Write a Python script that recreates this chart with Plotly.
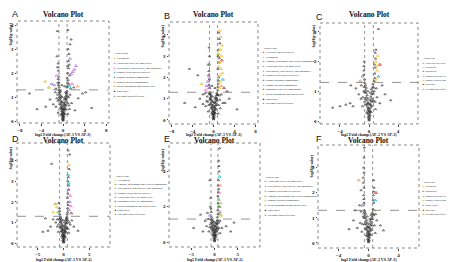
import plotly.graph_objects as go

FONT = "Liberation Serif"
W, H = 454, 262

CLASS_COLORS = {
    "Alkaloids and derivatives": "#e8413c",
    "Benzenoids": "#d62728",
    "Flavonoids": "#f2c12e",
    "Lignans, neolignans and related compounds": "#4daf4a",
    "Lipids and lipid-like molecules": "#a979d6",
    "Nucleosides, nucleotides, and analogues": "#e377c2",
    "Organic acids and derivatives": "#19bfd0",
    "Organic nitrogen compounds": "#2f7fc1",
    "Organic oxygen compounds": "#f39a6b",
    "Organoheterocyclic compounds": "#8c564b",
    "Phenylpropanoids and polyketides": "#b5b82a",
    "Prenol lipids": "#9467bd",
    "Undefined": "#222222",
    "No significant difference": "#8a8a8a",
}

# ---------------- data ----------------
A_classes = ["Flavonoids", "Lipids and lipid-like molecules", "Nucleosides, nucleotides, and analogues",
             "Organic acids and derivatives", "Organic nitrogen compounds", "Organic oxygen compounds",
             "Phenylpropanoids and polyketides", "Undefined", "No significant difference"]
A_ns = [(0.00, 0.02), (0.05, 0.05), (-0.05, 0.07), (0.1, 0.1), (-0.1, 0.12), (0.02, 0.15), (0.15, 0.18),
        (-0.15, 0.2), (0.08, 0.22), (-0.08, 0.25), (0.2, 0.28), (-0.2, 0.3), (0.12, 0.33), (-0.12, 0.36),
        (0.25, 0.4), (-0.25, 0.42), (0.3, 0.48), (-0.3, 0.5), (0.18, 0.5), (-0.18, 0.55), (0.35, 0.58),
        (-0.35, 0.62), (0.4, 0.68), (-0.4, 0.72), (0.28, 0.7), (-0.3, 0.8), (0.45, 0.8), (-0.45, 0.85),
        (0.5, 0.92), (-0.5, 0.95), (0.38, 0.98), (-0.42, 1.05), (0.55, 1.05), (-0.55, 1.1), (0.6, 1.15),
        (-0.6, 1.2), (0.5, 1.2), (-0.48, 1.25), (0.9, 0.3), (-0.9, 0.35), (1.2, 0.5), (-1.3, 0.6),
        (1.6, 0.75), (-1.8, 0.7), (2.2, 0.45), (-2.4, 0.9), (2.8, 0.95), (-3.2, 0.6), (3.6, 1.15),
        (4.2, 1.2), (-4.8, 0.5), (-6.2, 1.15), (5.3, 0.55), (1.0, 1.0), (-1.0, 1.1), (0.7, 1.4),
        (0.8, 1.6), (0.75, 1.8), (0.9, 2.0), (0.85, 2.3), (1.0, 2.5), (1.1, 2.8), (0.95, 3.0), (1.3, 3.2),
        (1.5, 3.4), (0.9, 3.8), (-0.7, 1.4), (-0.75, 1.6), (-0.8, 1.85), (-0.85, 2.1), (-0.9, 2.4),
        (-1.1, 2.7), (-1.05, 3.75), (-0.2, 1.5), (0.3, 1.45), (-1.3, 1.35), (1.4, 1.35), (2.0, 1.4),
        (0.65, 0.85), (-0.65, 0.9), (0.75, 1.25), (-0.7, 1.3), (0.22, 0.9), (-0.15, 1.0), (1.2, 1.9),
        (1.05, 2.2), (-0.95, 1.6), (0.8, 1.05), (0.05, 0.35), (-0.03, 0.45), (0.1, 0.6), (-0.08, 0.65),
        (0.15, 0.75), (-0.12, 0.8), (0.32, 0.3), (-0.35, 0.28), (0.45, 0.5), (-0.45, 0.55), (0.55, 0.65),
        (-0.55, 0.7), (0.62, 0.95), (-0.62, 1.0), (0.7, 1.15), (-0.72, 1.18), (0.9, 0.75), (-0.95, 0.85),
        (1.1, 0.65), (-1.15, 0.95), (1.3, 1.1), (-1.4, 1.2), (0.85, 1.45), (0.95, 1.7), (1.05, 1.55),
        (-0.85, 1.5), (-0.9, 1.75), (1.15, 2.35), (-1.0, 2.25), (0.0, 0.5)]
A_sig = [(1.5, 1.95, "Lipids and lipid-like molecules"), (1.8, 2.05, "Lipids and lipid-like molecules"),
         (2.1, 2.15, "Lipids and lipid-like molecules"), (2.4, 2.3, "Lipids and lipid-like molecules"),
         (1.7, 1.55, "Nucleosides, nucleotides, and analogues"), (-1.6, 1.5, "Lipids and lipid-like molecules"),
         (-2.1, 1.55, "Lipids and lipid-like molecules"), (-3.3, 1.65, "Flavonoids"),
         (1.2, 1.45, "Organic acids and derivatives"), (2.7, 1.45, "Organic oxygen compounds"),
         (-1.2, 1.9, "Nucleosides, nucleotides, and analogues"), (1.3, 2.6, "Lipids and lipid-like molecules"),
         (-2.6, 1.4, "Phenylpropanoids and polyketides")]

B_classes = ["Alkaloids and derivatives", "Flavonoids", "Lignans, neolignans and related compounds",
             "Lipids and lipid-like molecules", "Nucleosides, nucleotides, and analogues",
             "Organic acids and derivatives", "Organic nitrogen compounds", "Organic oxygen compounds",
             "Organoheterocyclic compounds", "Phenylpropanoids and polyketides", "Undefined",
             "No significant difference"]
B_ns = [(0.0, 0.03), (0.06, 0.06), (-0.06, 0.08), (0.12, 0.12), (-0.1, 0.15), (0.03, 0.18), (0.16, 0.22),
        (-0.16, 0.24), (0.08, 0.28), (-0.08, 0.3), (0.22, 0.33), (-0.22, 0.36), (0.12, 0.4), (-0.14, 0.42),
        (0.27, 0.46), (-0.28, 0.5), (0.32, 0.55), (-0.32, 0.58), (0.2, 0.6), (-0.2, 0.64), (0.38, 0.68),
        (-0.38, 0.72), (0.42, 0.78), (-0.44, 0.82), (0.3, 0.84), (-0.3, 0.9), (0.48, 0.92), (-0.5, 0.96),
        (0.55, 1.02), (-0.55, 1.06), (0.4, 1.08), (-0.45, 1.14), (0.6, 1.16), (-0.6, 1.2), (0.62, 1.26),
        (-0.62, 1.28), (0.9, 0.3), (-1.0, 0.4), (1.3, 0.55), (-1.5, 0.65), (1.8, 0.8), (-2.0, 0.75),
        (2.2, 0.8), (-2.6, 1.0), (3.0, 1.0), (-3.5, 0.6), (4.5, 0.5), (-5.5, 0.8), (-2.0, 1.2), (2.6, 1.35),
        (-4.6, 2.4), (-3.0, 2.1), (0.8, 1.4), (0.9, 1.7), (1.0, 2.0), (0.85, 2.4), (1.1, 2.9), (0.95, 3.3),
        (1.2, 3.6), (1.0, 4.1), (-0.7, 1.5), (-0.8, 1.9), (-0.9, 2.3), (-0.75, 3.0), (-0.85, 3.4),
        (-1.2, 1.1), (1.1, 1.15), (0.3, 1.5), (-0.3, 1.6), (0.7, 0.9), (-0.7, 0.95), (-0.9, 0.7),
        (0.25, 1.0), (-0.2, 1.1), (0.8, 1.2), (-0.8, 1.25), (0.04, 0.38), (-0.02, 0.5), (0.09, 0.62),
        (-0.1, 0.7), (0.14, 0.8), (-0.12, 0.86), (0.35, 0.32), (-0.36, 0.3), (0.46, 0.52), (-0.47, 0.58),
        (0.56, 0.7), (-0.56, 0.74), (0.64, 0.98), (-0.64, 1.02), (0.72, 1.18), (-0.74, 1.2), (1.0, 0.7),
        (-1.1, 0.85), (1.2, 0.95), (-1.3, 0.9), (1.5, 1.2), (-1.6, 1.25), (0.85, 1.55), (0.95, 1.85),
        (-0.85, 1.65), (-0.95, 2.1), (1.05, 2.7), (-0.8, 2.6), (0.9, 3.0), (1.1, 3.8)]
B_sig = [(1.1, 1.5, "Flavonoids"), (1.3, 1.8, "Flavonoids"), (1.2, 2.1, "Flavonoids"), (1.4, 2.4, "Flavonoids"),
         (1.2, 2.7, "Flavonoids"), (1.5, 3.0, "Flavonoids"), (1.3, 3.3, "Flavonoids"), (1.6, 3.5, "Flavonoids"),
         (1.4, 3.9, "Flavonoids"), (1.2, 4.2, "Flavonoids"), (1.7, 2.2, "Flavonoids"), (1.0, 2.5, "Flavonoids"),
         (1.5, 1.6, "Organic oxygen compounds"), (-0.9, 1.5, "Lipids and lipid-like molecules"),
         (-1.1, 1.8, "Lipids and lipid-like molecules"), (-1.3, 1.6, "Lipids and lipid-like molecules"),
         (-0.8, 2.0, "Lipids and lipid-like molecules"), (-1.5, 1.4, "Nucleosides, nucleotides, and analogues"),
         (-1.0, 2.6, "Lignans, neolignans and related compounds"), (1.8, 1.9, "Organic acids and derivatives"),
         (2.0, 1.5, "Organoheterocyclic compounds"), (0.9, 3.1, "Phenylpropanoids and polyketides"),
         (-2.3, 1.7, "Flavonoids"), (1.6, 2.8, "Alkaloids and derivatives")]

C_classes = ["Lipids and lipid-like molecules", "Flavonoids", "Benzenoids", "Organic acids and derivatives",
             "Organic oxygen compounds", "Undefined", "No significant difference"]
C_ns = [(0.0, 0.02), (0.05, 0.05), (-0.05, 0.08), (0.1, 0.11), (-0.1, 0.14), (0.02, 0.17), (0.14, 0.2),
        (-0.14, 0.23), (0.07, 0.26), (-0.07, 0.29), (0.18, 0.32), (-0.18, 0.35), (0.1, 0.38), (-0.12, 0.41),
        (0.22, 0.45), (-0.22, 0.48), (0.27, 0.53), (-0.27, 0.56), (0.16, 0.58), (-0.17, 0.62), (0.32, 0.66),
        (-0.32, 0.7), (0.36, 0.75), (-0.37, 0.8), (0.25, 0.82), (-0.26, 0.87), (0.4, 0.9), (-0.42, 0.95),
        (0.45, 1.0), (-0.46, 1.05), (0.34, 1.08), (-0.38, 1.12), (0.5, 1.15), (-0.5, 1.2), (0.55, 1.25),
        (-0.55, 1.27), (0.7, 1.35), (0.8, 1.6), (0.75, 1.9), (0.9, 2.1), (0.85, 2.3), (1.3, 3.1),
        (-0.6, 1.4), (-0.7, 1.7), (-0.65, 2.0), (-0.75, 1.55), (-4.0, 0.5), (-3.2, 0.55), (-2.6, 0.6),
        (-2.2, 0.5), (-5.0, 0.45), (-1.8, 1.1), (-2.5, 1.2), (2.2, 0.9), (3.0, 0.7), (1.8, 1.2), (-1.4, 0.9),
        (1.5, 0.6), (0.9, 0.4), (-0.9, 0.5), (1.1, 0.8), (-1.1, 0.75), (0.7, 1.0), (-0.7, 1.0),
        (0.6, 0.7), (-0.6, 0.65), (0.2, 0.95), (-0.15, 1.0), (0.04, 0.33), (-0.03, 0.44), (0.08, 0.55),
        (-0.09, 0.6), (0.12, 0.7), (-0.13, 0.76), (0.3, 0.3), (-0.32, 0.28), (0.42, 0.5), (-0.42, 0.55),
        (0.5, 0.65), (-0.52, 0.75), (0.58, 0.92), (-0.58, 0.98), (0.65, 1.12), (-0.66, 1.15), (0.85, 0.65),
        (-0.85, 0.8), (1.0, 1.1), (-1.05, 1.2), (0.8, 1.45), (0.85, 1.8), (-0.7, 1.85), (0.95, 2.4)]
C_sig = [(1.0, 1.4, "Flavonoids"), (1.1, 1.7, "Flavonoids"), (0.95, 2.0, "Flavonoids"), (1.2, 2.2, "Flavonoids"),
         (1.05, 1.85, "Flavonoids"), (-0.9, 1.5, "Lipids and lipid-like molecules"),
         (1.3, 1.5, "Organic acids and derivatives"), (-1.2, 1.35, "Organic oxygen compounds"),
         (1.5, 1.9, "Benzenoids")]

D_classes = ["Flavonoids", "Lignans, neolignans and related compounds", "Nucleosides, nucleotides, and analogues",
             "Organic acids and derivatives", "Lipids and lipid-like molecules", "Organoheterocyclic compounds",
             "Phenylpropanoids and polyketides", "Undefined", "No significant difference"]
D_ns = [(0.0, 0.03), (0.06, 0.06), (-0.06, 0.09), (0.12, 0.12), (-0.12, 0.15), (0.03, 0.19), (0.17, 0.22),
        (-0.17, 0.25), (0.09, 0.29), (-0.09, 0.32), (0.22, 0.36), (-0.22, 0.39), (0.13, 0.42), (-0.13, 0.45),
        (0.27, 0.5), (-0.27, 0.53), (0.32, 0.58), (-0.32, 0.61), (0.2, 0.64), (-0.2, 0.68), (0.37, 0.72),
        (-0.37, 0.76), (0.42, 0.8), (-0.42, 0.84), (0.3, 0.88), (-0.3, 0.92), (0.47, 0.96), (-0.47, 1.0),
        (0.52, 1.05), (-0.52, 1.08), (0.4, 1.12), (-0.4, 1.16), (0.57, 1.2), (-0.57, 1.24), (0.62, 1.27),
        (0.7, 1.4), (0.8, 1.7), (0.9, 2.0), (0.85, 2.4), (1.0, 2.8), (0.95, 3.2), (1.1, 3.6), (1.2, 4.3),
        (0.9, 4.5), (-0.7, 1.4), (-0.8, 1.7), (-0.9, 1.95), (-2.3, 3.85), (-3.0, 0.6), (-2.5, 0.8),
        (-2.0, 1.15), (-4.0, 0.55), (2.0, 0.8), (2.8, 0.6), (-1.5, 1.0), (1.6, 1.1), (-3.5, 1.2), (1.0, 0.5),
        (-1.0, 0.55), (1.3, 0.9), (-1.2, 0.8), (0.8, 1.1), (-0.8, 1.15), (0.65, 0.75), (-0.65, 0.8),
        (0.2, 1.0), (-0.1, 1.1), (0.75, 2.2), (0.85, 3.0), (0.04, 0.36), (-0.03, 0.48), (0.09, 0.58),
        (-0.08, 0.66), (0.14, 0.78), (-0.14, 0.84), (0.34, 0.3), (-0.35, 0.33), (0.45, 0.54), (-0.46, 0.58),
        (0.55, 0.68), (-0.55, 0.72), (0.62, 0.96), (-0.63, 1.0), (0.7, 1.18), (-0.7, 1.2), (0.9, 0.7),
        (-0.95, 0.9), (1.1, 1.0), (-1.2, 1.15), (0.8, 1.5), (0.9, 1.85), (0.95, 2.6), (-0.75, 1.55)]
D_sig = [(-2.0, 1.5, "Flavonoids"), (-1.3, 1.75, "Flavonoids"), (-1.6, 1.9, "Phenylpropanoids and polyketides"),
         (1.0, 2.6, "Lipids and lipid-like molecules"), (1.2, 2.0, "Lipids and lipid-like molecules"),
         (1.3, 2.3, "Nucleosides, nucleotides, and analogues"), (1.1, 1.6, "Lipids and lipid-like molecules"),
         (1.0, 2.9, "Organic acids and derivatives"), (0.9, 3.3, "Organic acids and derivatives"),
         (1.4, 1.8, "Nucleosides, nucleotides, and analogues"), (-1.0, 1.5, "Lignans, neolignans and related compounds"),
         (1.5, 1.45, "Organoheterocyclic compounds"), (1.1, 3.8, "Flavonoids")]

E_classes = ["Lipids and lipid-like molecules", "Nucleosides, nucleotides, and analogues",
             "Organic acids and derivatives", "Lignans, neolignans and related compounds",
             "Organic oxygen compounds", "Phenylpropanoids and polyketides", "Undefined",
             "No significant difference"]
E_ns = [(0.0, 0.04), (0.07, 0.08), (-0.07, 0.12), (0.14, 0.16), (-0.14, 0.2), (0.03, 0.24), (0.2, 0.28),
        (-0.2, 0.32), (0.1, 0.36), (-0.1, 0.4), (0.26, 0.45), (-0.26, 0.5), (0.15, 0.54), (-0.15, 0.58),
        (0.32, 0.63), (-0.32, 0.68), (0.38, 0.74), (-0.38, 0.78), (0.24, 0.82), (-0.24, 0.87), (0.44, 0.92),
        (-0.44, 0.97), (0.5, 1.02), (-0.5, 1.07), (0.36, 1.1), (-0.36, 1.16), (0.55, 1.2), (-0.55, 1.25),
        (0.6, 1.4), (0.7, 1.8), (0.8, 2.2), (0.75, 2.6), (0.9, 3.0), (0.85, 3.5), (1.0, 4.0), (0.9, 4.6),
        (1.1, 5.3), (-0.6, 1.4), (-0.7, 1.7), (-0.9, 2.0), (-1.0, 3.5), (-0.8, 2.5), (-2.0, 1.2),
        (-3.0, 1.55), (-4.5, 0.8), (-2.5, 0.6), (2.5, 0.9), (3.5, 0.6), (-1.5, 1.65), (4.2, 1.1), (1.2, 0.5),
        (-1.2, 0.6), (1.6, 0.8), (-1.7, 0.9), (0.9, 1.1), (-0.9, 1.0), (0.7, 0.7), (-0.7, 0.75),
        (0.2, 1.05), (-0.15, 1.15), (0.8, 3.2), (0.95, 4.3), (0.04, 0.42), (-0.04, 0.55), (0.09, 0.68),
        (-0.09, 0.75), (0.14, 0.9), (-0.13, 0.95), (0.36, 0.36), (-0.36, 0.4), (0.46, 0.6), (-0.46, 0.64),
        (0.56, 0.8), (-0.56, 0.85), (0.62, 1.05), (-0.62, 1.1), (0.68, 1.25), (-0.7, 1.28), (0.95, 0.8),
        (-1.0, 0.85), (1.2, 1.2), (-1.3, 1.3), (0.75, 1.6), (0.85, 2.0), (0.8, 2.8), (-0.75, 1.9)]
E_sig = [(1.0, 1.6, "Lignans, neolignans and related compounds"),
         (1.1, 2.0, "Lignans, neolignans and related compounds"),
         (0.9, 2.4, "Lignans, neolignans and related compounds"), (1.2, 1.7, "Nucleosides, nucleotides, and analogues"),
         (1.0, 2.8, "Nucleosides, nucleotides, and analogues"), (1.3, 2.2, "Organic oxygen compounds"),
         (1.2, 3.2, "Organic oxygen compounds"), (-1.0, 1.5, "Lipids and lipid-like molecules"),
         (1.4, 1.5, "Phenylpropanoids and polyketides"), (1.1, 3.7, "Organic acids and derivatives")]

F_classes = ["Flavonoids", "Benzenoids", "Organic acids and derivatives", "Organic oxygen compounds",
             "Prenol lipids", "Undefined", "No significant difference"]
F_ns = [(0.0, 0.03), (0.05, 0.06), (-0.05, 0.09), (0.1, 0.12), (-0.1, 0.15), (0.02, 0.18), (0.14, 0.22),
        (-0.14, 0.25), (0.07, 0.28), (-0.07, 0.31), (0.18, 0.35), (-0.18, 0.38), (0.1, 0.41), (-0.11, 0.44),
        (0.22, 0.48), (-0.22, 0.52), (0.27, 0.56), (-0.27, 0.6), (0.15, 0.63), (-0.16, 0.67), (0.32, 0.71),
        (-0.32, 0.75), (0.36, 0.8), (-0.37, 0.84), (0.25, 0.87), (-0.26, 0.91), (0.4, 0.95), (-0.42, 0.99),
        (0.45, 1.04), (-0.46, 1.08), (0.34, 1.12), (-0.38, 1.16), (0.5, 1.2), (-0.5, 1.24), (-0.55, 1.3),
        (-0.6, 1.6), (-0.65, 1.9), (-0.6, 2.2), (-0.7, 2.6), (-0.65, 3.0), (-0.6, 3.4), (-0.55, 3.8),
        (0.6, 1.35), (0.7, 1.6), (0.65, 1.9), (0.75, 2.2), (0.7, 2.5), (-2.0, 0.9), (-1.8, 1.3), (-1.5, 0.6),
        (-2.6, 0.55), (1.6, 0.7), (2.0, 0.5), (-1.2, 1.5), (-1.0, 2.1), (0.9, 0.4), (-0.9, 0.45), (1.1, 0.9),
        (-1.1, 0.8), (0.7, 1.1), (-0.7, 1.05), (0.2, 0.95), (-0.15, 1.05), (-0.6, 2.8), (0.04, 0.36),
        (-0.03, 0.47), (0.08, 0.58), (-0.08, 0.64), (0.12, 0.74), (-0.12, 0.8), (0.3, 0.32), (-0.3, 0.3),
        (0.42, 0.52), (-0.42, 0.56), (0.5, 0.7), (-0.5, 0.74), (0.56, 0.95), (-0.57, 1.0), (0.62, 1.15),
        (-0.63, 1.18), (0.8, 0.7), (-0.8, 0.75), (0.95, 1.15), (-1.0, 1.25), (0.62, 1.7), (-0.62, 1.75),
        (-0.68, 2.4), (0.68, 2.05)]
F_sig = [(0.8, 1.3, "Flavonoids"), (-0.8, 1.5, "Prenol lipids"),
         (0.9, 1.7, "Organic acids and derivatives"), (-1.3, 2.5, "Organic oxygen compounds"),
         (1.0, 2.0, "Benzenoids")]

X_LABELS = ["log2 Fold change(AP-1 VS AP-3)", "log2 Fold change(AP-1 VS AP-3)", "log2 Fold change(AP-2 VS AP-3)",
            "log2 Fold change(AP-1 VS AP-2)", "log2 Fold change(AP-1 VS AP-2)", "log2 Fold change(AP-2 VS AP-3)"]
PANEL_LETTERS = ["A", "B", "C", "D", "E", "F"]

# ---------------- layout config (pixels) ----------------
panels = [
    dict(ns=A_ns, sig=A_sig, classes=A_classes, xr=[-8.5, 8.5], yr=[-0.08, 4.17], xt=[-8, -4, 0, 4, 8],
         yt=[0, 1, 2, 3, 4], vx=0.75, box=(9, 101, 13, 115), title_y=6, letter=(2, 6),
         leg=(103, 46, 4.7, 2.8), ylab_y=26, xlab_y=126),
    dict(ns=B_ns, sig=B_sig, classes=B_classes, xr=[-8.5, 8.5], yr=[-0.19, 4.6], xt=[-8, -4, 0, 4, 8],
         yt=[0, 1, 2, 3, 4], vx=0.75, box=(161, 250, 14, 116), title_y=6, letter=(154, 8),
         leg=(252, 40, 4.65, 2.8), ylab_y=28, xlab_y=126),
    dict(ns=C_ns, sig=C_sig, classes=C_classes, xr=[-6.75, 6.75], yr=[-0.1, 3.3], xt=[-4, 0, 4],
         yt=[0, 1, 2, 3], vx=0.6, box=(312, 410, 15, 116), title_y=6, letter=(306, 9),
         leg=(412, 51, 4.3, 2.45), ylab_y=28, xlab_y=126),
    dict(ns=D_ns, sig=D_sig, classes=D_classes, xr=[-9, 9], yr=[-0.19, 4.86], xt=[-5, 0, 5],
         yt=[0, 1, 2, 3, 4], vx=0.75, box=(9, 102, 135, 239), title_y=132, letter=(2, 131),
         leg=(104, 168, 4.3, 2.8), ylab_y=150, xlab_y=251),
    dict(ns=E_ns, sig=E_sig, classes=E_classes, xr=[-9.8, 9.8], yr=[-0.28, 5.6], xt=[-5, 0, 5],
         yt=[0, 2, 4], vx=0.75, box=(161, 252, 135, 239), title_y=132, letter=(154, 131),
         leg=(254, 169, 4.75, 2.8), ylab_y=152, xlab_y=251),
    dict(ns=F_ns, sig=F_sig, classes=F_classes, xr=[-6.75, 6.75], yr=[-0.2, 3.9], xt=[-4, 0, 4],
         yt=[0, 1, 2, 3], vx=0.55, box=(310, 411, 137, 240), title_y=132, letter=(306, 131),
         leg=(412, 174, 4.7, 2.45), ylab_y=158, xlab_y=251),
]


def px(x):
    return x / W


def py(y):
    return 1 - y / H


fig = go.Figure()
shapes, annotations = [], []
tickfont = dict(family=FONT, size=5, color="#111", weight="bold")

for i, p in enumerate(panels, start=1):
    xa = "x" if i == 1 else f"x{i}"
    ya = "y" if i == 1 else f"y{i}"
    sfx = "" if i == 1 else str(i)
    x0, x1, y0, y1 = p["box"]
    fig.update_layout(**{
        f"xaxis{sfx}": dict(domain=[px(x0), px(x1)], anchor=ya, range=p["xr"], tickvals=p["xt"],
                            showgrid=False, zeroline=False, showline=False, ticks="outside", ticklen=1.5,
                            tickwidth=0.6, tickcolor="#444", tickfont=tickfont, fixedrange=True),
        f"yaxis{sfx}": dict(domain=[py(y1), py(y0)], anchor=xa, range=p["yr"], tickvals=p["yt"],
                            showgrid=False, zeroline=False, showline=False, ticks="outside", ticklen=1.5,
                            tickwidth=0.6, tickcolor="#444", tickfont=tickfont, fixedrange=True),
    })
    nx = [a for a, b in p["ns"]]
    ny = [b for a, b in p["ns"]]
    fig.add_trace(go.Scatter(x=nx, y=ny, mode="markers", xaxis=xa, yaxis=ya, showlegend=False,
                             marker=dict(symbol="triangle-up-open", size=2.0, color="#262626",
                                         line=dict(width=0.6, color="#262626"))))
    for cls in p["classes"]:
        pts = [(a, b) for a, b, c in p["sig"] if c == cls]
        if not pts:
            continue
        fig.add_trace(go.Scatter(x=[a for a, b in pts], y=[b for a, b in pts], mode="markers",
                                 xaxis=xa, yaxis=ya, showlegend=False,
                                 marker=dict(symbol="triangle-up-open", size=2.6, color=CLASS_COLORS[cls],
                                             line=dict(width=0.8, color=CLASS_COLORS[cls]))))
    shapes.append(dict(type="rect", xref=f"{xa} domain", yref=f"{ya} domain", x0=0, x1=1, y0=0, y1=1,
                       line=dict(color="#555", width=0.7, dash="dot")))
    for v in (-p["vx"], p["vx"]):
        shapes.append(dict(type="line", xref=xa, yref=f"{ya} domain", x0=v, x1=v, y0=0, y1=1,
                           line=dict(color="#666", width=0.7, dash="dot")))
    shapes.append(dict(type="line", xref=f"{xa} domain", yref=ya, x0=0, x1=1, y0=1.3, y1=1.3,
                       line=dict(color="#666", width=0.7, dash="dash")))
    cx = (x0 + x1) / 2
    annotations.append(dict(text="Volcano Plot", x=px(cx), y=py(p["title_y"]), xref="paper", yref="paper",
                            showarrow=False, xanchor="center", yanchor="middle",
                            font=dict(family=FONT, size=7.5, color="#111", weight="bold")))
    annotations.append(dict(text=PANEL_LETTERS[i - 1], x=px(p["letter"][0]), y=py(p["letter"][1]),
                            xref="paper", yref="paper", showarrow=False, xanchor="left", yanchor="middle",
                            font=dict(family="Liberation Sans", size=9, color="#111")))
    annotations.append(dict(text=X_LABELS[i - 1], x=px(cx), y=py(p["xlab_y"]), xref="paper", yref="paper",
                            showarrow=False, xanchor="center", yanchor="middle",
                            font=dict(family=FONT, size=4, color="#111", weight="bold")))
    annotations.append(dict(text="-log10(p value)", x=px(x0 - 6), y=py(p["ylab_y"]), xref="paper",
                            yref="paper", showarrow=False, textangle=-90, xanchor="center",
                            yanchor="middle", font=dict(family=FONT, size=3.6, color="#111", weight="bold")))
    lx, ly, step, fs = p["leg"]
    lines = ["&nbsp;&nbsp;&nbsp;SuperClass"] + [
        f"<span style='color:{CLASS_COLORS[c]}'>▲</span> {c}" for c in p["classes"]]
    for k, t in enumerate(lines):
        annotations.append(dict(text=t, x=px(lx), y=py(ly + k * step), xref="paper", yref="paper",
                                showarrow=False, xanchor="left", yanchor="middle", align="left",
                                font=dict(family=FONT, size=fs, color="#111")))

fig.update_layout(width=W, height=H, margin=dict(l=0, r=0, t=0, b=0), paper_bgcolor="white",
                  plot_bgcolor="white", shapes=shapes, annotations=annotations, showlegend=False)
fig.write_html("out.html")
